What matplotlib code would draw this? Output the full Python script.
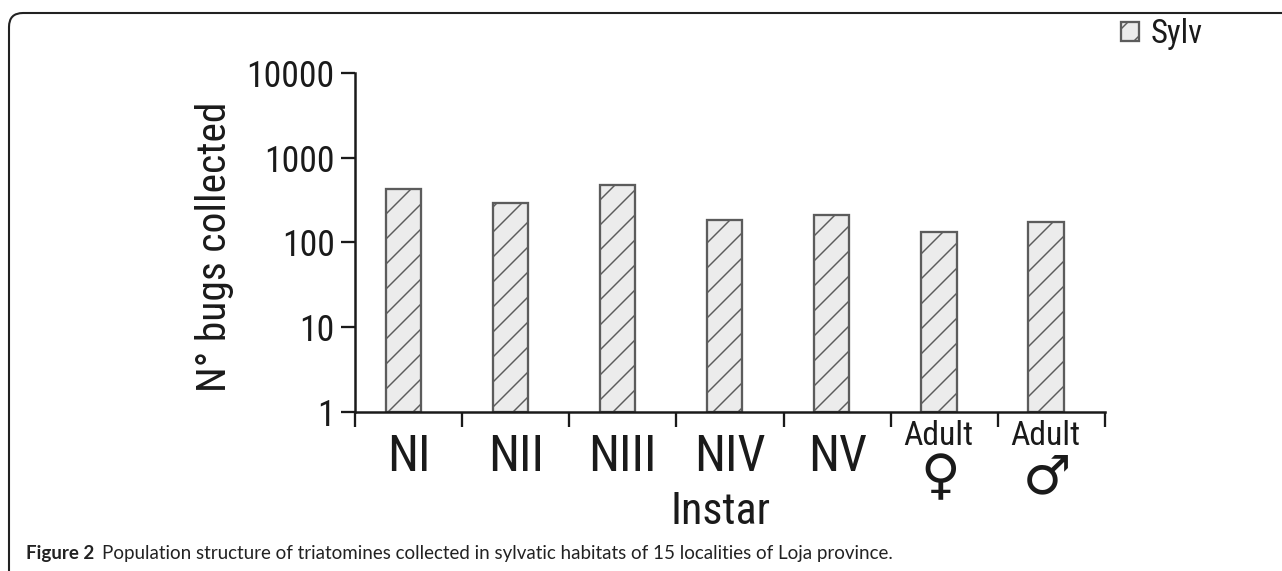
import numpy as np
import matplotlib
matplotlib.use('Agg')
import matplotlib.pyplot as plt
from matplotlib import font_manager as fm
from matplotlib.patches import FancyBboxPatch
from matplotlib.transforms import IdentityTransform, blended_transform_factory

# dane
kategorie = ['NI', 'NII', 'NIII', 'NIV', 'NV', 'Adult', 'Adult']
symbole = ['', '', '', '', '', '\u2640', '\u2642']
sylv = [430, 290, 480, 182, 208, 131, 172]
y_ticks = [1, 10, 100, 1000, 10000]
y_labels = ['1', '10', '100', '1000', '10000']
legenda = 'Sylv'
os_x = 'Instar'
os_y = 'N\u00b0 bugs collected'
podpis_b = 'Figure 2'
podpis = 'Population structure of triatomines collected in sylvatic habitats of 15 localities of Loja province.'

W, H, DPI = 1282, 571, 150
plt.rcParams['hatch.linewidth'] = 0.7
plt.rcParams['hatch.color'] = '#555555'


def znajdz_waski():
    # szukamy waskiej czcionki (Arial Narrow / condensed), inaczej Liberation Sans
    pref = ['Liberation Sans Narrow', 'Arial Narrow', 'Roboto Condensed', 'Noto Sans',
            'DejaVu Sans', 'Open Sans']
    lista = [f for f in fm.fontManager.ttflist
             if (('Narrow' in f.name or 'Condensed' in f.name or 'Narrow' in f.fname
                  or 'Condensed' in f.fname or f.stretch in ('condensed', 'semi-condensed'))
                 and f.weight in (400, 'normal', 'regular') and f.style == 'normal')]
    for p in pref:
        for f in lista:
            if f.name == p or f.name.startswith(p):
                return fm.FontProperties(fname=f.fname), True
    if lista:
        return fm.FontProperties(fname=lista[0].fname), True
    return fm.FontProperties(family='Liberation Sans'), False


fp, waski = znajdz_waski()

fig = plt.figure(figsize=(W / DPI, H / DPI), dpi=DPI)
renderer = fig.canvas.get_renderer()


def rozmiar(s, szer_px, max_pt):
    p = fp.copy()
    p.set_size(10)
    w, _, _ = renderer.get_text_width_height_descent(s, p, False)
    return min(max_pt, 10 * szer_px / w)


def czcionka(size):
    p = fp.copy()
    p.set_size(size)
    return p


ax = fig.add_axes([355 / W, 1 - 412 / H, 750 / W, (412 - 73) / H])

x = np.arange(len(kategorie)) + 0.45
ax.bar(x, sylv, width=0.33, bottom=1, color='#ececec', edgecolor='#5c5c5c',
       linewidth=1.1, hatch='//', label=legenda, zorder=2)

ax.set_yscale('log')
ax.set_ylim(1, 10000)
ax.set_xlim(0, len(kategorie))
ax.set_yticks(y_ticks)
ax.set_yticklabels(y_labels)
ax.minorticks_off()
ax.tick_params(axis='y', which='major', length=6.7, width=1.1, pad=3, colors='#1a1a1a')
fy = czcionka(rozmiar('10000', 88, 18.8))
for t in ax.get_yticklabels():
    t.set_fontproperties(fy)

ax.set_xticks(np.arange(len(kategorie)) + 0.5)
ax.set_xticklabels([k if s == '' else '' for k, s in zip(kategorie, symbole)])
ax.tick_params(axis='x', which='major', length=0, pad=10, colors='#1a1a1a')
fx = czcionka(rozmiar('NIII', 82, 24))
for t in ax.get_xticklabels():
    t.set_fontproperties(fx)
ax.set_xticks(np.arange(len(kategorie) + 1), minor=True)
ax.tick_params(axis='x', which='minor', length=7.2, width=1.1, color='#1a1a1a')

for s in ['top', 'right']:
    ax.spines[s].set_visible(False)
for s in ['left', 'bottom']:
    ax.spines[s].set_linewidth(1.2)
    ax.spines[s].set_color('#1a1a1a')

# etykiety doroslych z symbolem plci
tr = blended_transform_factory(ax.transData, fig.transFigure)
fa = czcionka(rozmiar('Adult', 70, 17.4))
for i, (k, s) in enumerate(zip(kategorie, symbole)):
    if s:
        ax.text(i + 0.44, 1 - 436 / H, k, transform=tr, ha='center', va='center',
                fontproperties=fa, color='#1a1a1a')
        ax.text(i + 0.46, 1 - 478 / H, s, transform=tr, ha='center', va='center',
                fontsize=26, color='#1a1a1a', family=['DejaVu Sans'])

fig.text(214 / W, 1 - 247 / H, os_y, rotation=90, ha='center', va='center',
         fontproperties=czcionka(rozmiar(os_y, 290, 22)), color='#1a1a1a')
fig.text(721 / W, 1 - 512 / H, os_x, ha='center', va='center',
         fontproperties=czcionka(rozmiar(os_x, 100, 25.5)), color='#1a1a1a')

leg = ax.legend(loc='upper left', bbox_to_anchor=(1121 / W, 1 - 18 / H),
                bbox_transform=fig.transFigure, frameon=False,
                prop=czcionka(rozmiar(legenda, 52, 16)),
                handlelength=0.55, handleheight=0.55, handletextpad=0.35,
                borderpad=0, borderaxespad=0, labelcolor='#1a1a1a')

# ramka z zaokraglonym rogiem
ramka = FancyBboxPatch((9, -60), 1400, H - 13 + 60,
                       boxstyle='round,pad=0,rounding_size=14',
                       transform=IdentityTransform(), fill=False,
                       edgecolor='#222222', linewidth=1.0, clip_on=False)
fig.add_artist(ramka)

cap = ['Lato', 'DejaVu Sans']
t1 = fig.text(26 / W, 1 - 559 / H, podpis_b, fontsize=9.0, weight='bold',
              family=cap, color='#222222', va='baseline')
ax.annotate(podpis, xy=(1, 0), xycoords=t1, xytext=(3.5, 0), textcoords='offset points',
            fontsize=9.0, family=cap, color='#222222', va='bottom',
            annotation_clip=False)

fig.savefig('out.png', dpi=DPI)
